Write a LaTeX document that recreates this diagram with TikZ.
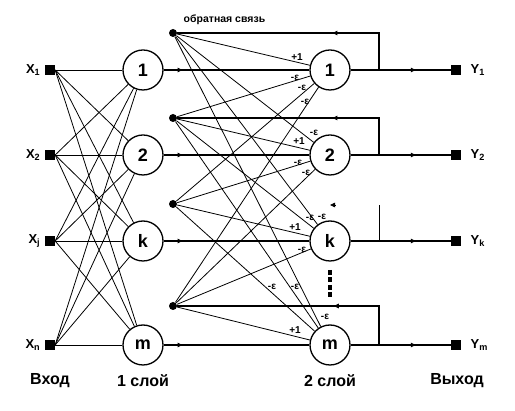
\documentclass[tikz,border=0pt]{standalone}
\usepackage{fontspec}
\setmainfont{Liberation Sans}
\usetikzlibrary{arrows.meta,decorations.markings}
\begin{document}
\begin{tikzpicture}[x=1pt, y=-1pt, line width=0.8pt, font=\bfseries\fontsize{13}{13}\selectfont,
  neuron/.style={circle, draw, line width=1.3pt, minimum size=40pt, inner sep=0pt, font=\bfseries\fontsize{18}{18}\selectfont},
  port/.style={rectangle, fill, minimum size=9.5pt, inner sep=0pt},
  fbdot/.style={circle, fill, minimum size=8pt, inner sep=0pt},
  wlabel/.style={font=\bfseries\fontsize{10}{10}\selectfont, inner sep=0pt},
  title/.style={font=\bfseries\fontsize{16}{16}\selectfont},
  midarrow/.style={postaction={decorate}, decoration={markings, mark=at position #1 with {\arrow{Triangle[length=5pt,width=4.5pt]}}}}]
\useasboundingbox (0,0) rectangle (515,411);
% входы, нейроны двух слоёв, выходы
\foreach \i/\y/\nm/\s in {1/70/1/1, 2/155/2/2, 3/241/k/j, 4/345/m/n} {
  \node[port] (x\i) at (50,\y) {};
  \node[anchor=east] (lx\i) at (44,\y) {X\textsubscript{\s}};
  \node[neuron] (a\i) at (143,\y) {\nm};
  \node[neuron] (b\i) at (330,\y) {\nm};
  \node[port] (y\i) at (456,\y) {};
  \node[anchor=west] (ly\i) at (467,\y) {Y\textsubscript{\nm}};
  \coordinate (j\i) at (379,\y); % отвод обратной связи
}
% точки обратной связи
\foreach \i/\y in {1/33, 2/118, 3/204, 4/306}
  \node[fbdot] (f\i) at (173,\y) {};
\node[anchor=west, font=\bfseries\fontsize{10.5}{10.5}\selectfont] (fbtitle) at (180,20) {обратная связь};
% связи вход -> 1 слой и обратная связь -> 2 слой
\foreach \i in {1,...,4}
  \foreach \k in {1,...,4} {
    \draw (x\i.east) -- (a\k);
    \draw (f\i) -- (b\k);
  }
\foreach \i in {1,...,4} {
  \draw[line width=1.2pt, midarrow=0.13] (a\i) -- (b\i);
  \draw[line width=1.2pt, midarrow=0.65] (b\i) -- (y\i);
}
% петли обратной связи
\foreach \i in {1,2,4}
  \draw[line width=1.2pt, midarrow=0.35] (j\i) |- (f\i);
\draw (j3) -- ++(0,-36);
\draw[-{Triangle[length=5pt,width=4.5pt]}] (335,205) -- (330,205);
% многоточие между k и m
\draw[line width=3.5pt, dash pattern=on 5pt off 2.5pt] (330,270) -- (330,298);
% веса
\foreach \x/\y/\t [count=\c] in {297/57/+1, 295/78/-ε, 302/88/-ε, 305/102/-ε,
    314/133/-ε, 299/141/+1, 298/163/-ε, 306/173/-ε,
    310/218/-ε, 322/217/-ε, 295/227/+1, 302/250/-ε,
    272/287/-ε, 295/287/-ε, 325/317/-ε, 295/330/+1}
  \node[wlabel] (w\c) at (\x,\y) {\t};
% подписи
\node[title] (lin) at (50,381) {Вход};
\node[title] (lone) at (143,381) {1 слой};
\node[title] (ltwo) at (330,381) {2 слой};
\node[title] (lout) at (457,381) {Выход};
\end{tikzpicture}
\end{document}
